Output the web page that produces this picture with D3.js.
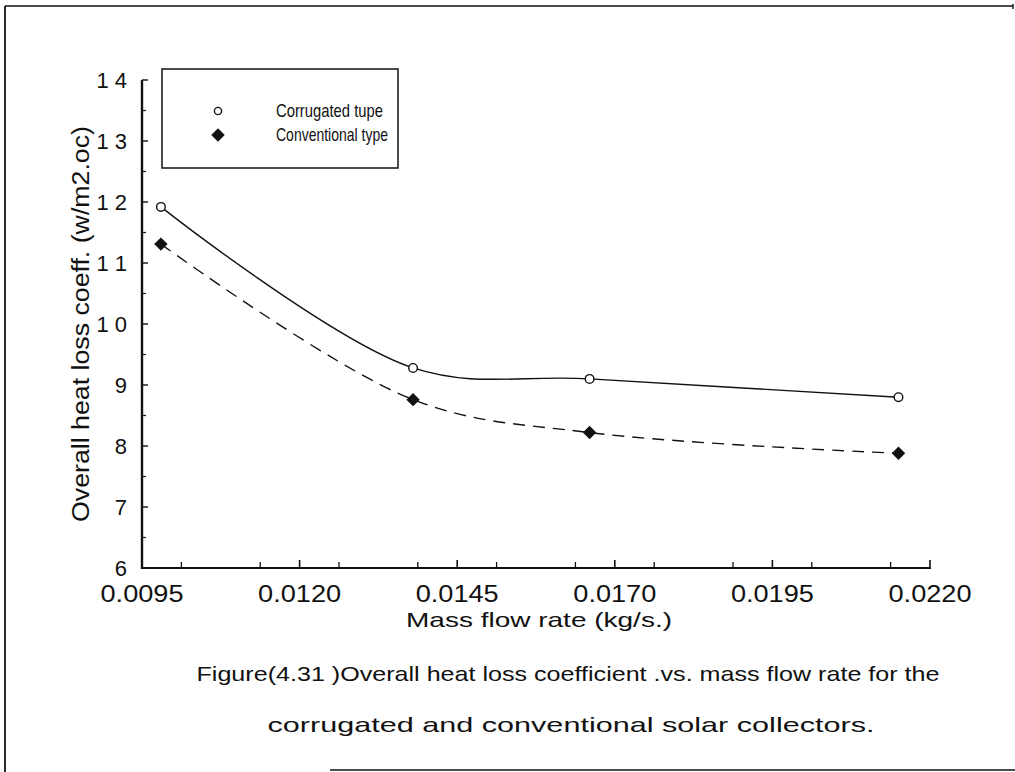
<!DOCTYPE html>
<html>
<head>
<meta charset="utf-8">
<script src="https://cdn.jsdelivr.net/npm/d3@7"></script>
<style>
  html, body { margin: 0; padding: 0; background: #fff; }
  svg { display: block; }
  text { font-family: "Liberation Sans", "DejaVu Sans", sans-serif; fill: #111; }
</style>
</head>
<body>
<svg id="chart" width="1015" height="772"></svg>
<script>
// Mass flow rate (kg/s) at which both collectors were tested
const flowRates = [0.0098, 0.0138, 0.0166, 0.0215];
// Overall heat loss coefficient (W/m2.°C)
const corrugated = [11.92, 9.28, 9.10, 8.80];
const conventional = [11.31, 8.76, 8.22, 7.88];

const xTicks = [0.0095, 0.0120, 0.0145, 0.0170, 0.0195, 0.0220];
const xTickLabels = ["0.0095", "0.0120", "0.0145", "0.0170", "0.0195", "0.0220"];
const yTicks = [6, 7, 8, 9, 10, 11, 12, 13, 14];
const yTickLabels = ["6", "7", "8", "9", "1 0", "1 1", "1 2", "1 3", "1 4"];

const seriesNames = ["Corrugated tupe", "Conventional type"];
const xTitle = "Mass flow rate (kg/s.)";
const yTitle = "Overall heat loss coeff. (w/m2.oc)";
const captionLines = [
  "Figure(4.31 )Overall heat loss coefficient .vs. mass flow rate for the",
  "corrugated and conventional solar collectors."
];

const svg = d3.select("#chart");
const ink = "#111";

// page frame
svg.append("line").attr("x1", 5).attr("y1", 6).attr("x2", 1013).attr("y2", 6)
  .attr("stroke", ink).attr("stroke-width", 1.6);
svg.append("line").attr("x1", 5).attr("y1", 6).attr("x2", 5).attr("y2", 772)
  .attr("stroke", ink).attr("stroke-width", 1.8);
svg.append("line").attr("x1", 1013).attr("y1", 4).attr("x2", 1013).attr("y2", 9)
  .attr("stroke", ink).attr("stroke-width", 1.4);
svg.append("line").attr("x1", 330).attr("y1", 770).attr("x2", 1015).attr("y2", 770)
  .attr("stroke", ink).attr("stroke-width", 1.6);

// plot area
const plotLeft = 142, plotRight = 930, plotTop = 80, plotBottom = 568;
const x = d3.scaleLinear().domain([0.0095, 0.0220]).range([plotLeft, plotRight]);
const y = d3.scaleLinear().domain([6, 14]).range([plotBottom, plotTop]);

// minor ticks every half interval
const xMinor = d3.range(0, 10).map(i => 0.0095 + i * 0.00125 + 0.000625).filter(v => v < 0.0220);
const yMinor = d3.range(6.5, 14, 1);

// x axis with inward ticks
const gx = svg.append("g");
gx.append("line").attr("x1", plotLeft - 1).attr("x2", plotRight + 1)
  .attr("y1", plotBottom).attr("y2", plotBottom)
  .attr("stroke", ink).attr("stroke-width", 2.2);
gx.selectAll(".xmaj").data(xTicks).join("line")
  .attr("x1", d => x(d)).attr("x2", d => x(d)).attr("y1", plotBottom).attr("y2", plotBottom - 8)
  .attr("stroke", ink).attr("stroke-width", 1.6);
gx.selectAll(".xmin").data(xMinor).join("line")
  .attr("x1", d => x(d)).attr("x2", d => x(d)).attr("y1", plotBottom).attr("y2", plotBottom - 6)
  .attr("stroke", ink).attr("stroke-width", 1.3);
gx.selectAll(".xlab").data(xTicks).join("text")
  .attr("x", d => x(d)).attr("y", 602)
  .attr("text-anchor", "middle").attr("font-size", 23)
  .attr("textLength", 83).attr("lengthAdjust", "spacingAndGlyphs")
  .text((d, i) => xTickLabels[i]);

// y axis with inward ticks
const gy = svg.append("g");
gy.append("line").attr("x1", plotLeft).attr("x2", plotLeft)
  .attr("y1", plotTop).attr("y2", plotBottom + 1)
  .attr("stroke", ink).attr("stroke-width", 2.4);
gy.selectAll(".ymaj").data(yTicks).join("line")
  .attr("x1", plotLeft).attr("x2", plotLeft + 6).attr("y1", d => y(d)).attr("y2", d => y(d))
  .attr("stroke", ink).attr("stroke-width", 1.4);
gy.selectAll(".ymin").data(yMinor).join("line")
  .attr("x1", plotLeft).attr("x2", plotLeft + 4).attr("y1", d => y(d)).attr("y2", d => y(d))
  .attr("stroke", ink).attr("stroke-width", 1.2);
gy.selectAll(".ylab").data(yTicks).join("text")
  .attr("x", 127).attr("y", d => y(d) + 8)
  .attr("text-anchor", "end").attr("font-size", 22)
  .text((d, i) => yTickLabels[i]);

// axis titles
svg.append("text").attr("x", 539).attr("y", 627)
  .attr("text-anchor", "middle").attr("font-size", 21)
  .attr("textLength", 266).attr("lengthAdjust", "spacingAndGlyphs")
  .text(xTitle);
svg.append("text")
  .attr("transform", `translate(89,${(plotTop + plotBottom) / 2}) rotate(-90)`)
  .attr("text-anchor", "middle").attr("font-size", 23)
  .attr("textLength", 396).attr("lengthAdjust", "spacingAndGlyphs")
  .text(yTitle);

// fitted curves
const line = d3.line().x(d => x(d[0])).y(d => y(d[1])).curve(d3.curveCatmullRom.alpha(0.5));
const corrPts = flowRates.map((f, i) => [f, corrugated[i]]);
const convPts = flowRates.map((f, i) => [f, conventional[i]]);

svg.append("path").attr("d", line(corrPts))
  .attr("fill", "none").attr("stroke", ink).attr("stroke-width", 1.4);
svg.append("path").attr("d", line(convPts))
  .attr("fill", "none").attr("stroke", ink).attr("stroke-width", 1.4)
  .attr("stroke-dasharray", "12,8");

// markers
const diamond = d3.symbol().type(d3.symbolSquare).size(90);
svg.selectAll(".corr").data(corrPts).join("circle")
  .attr("cx", d => x(d[0])).attr("cy", d => y(d[1])).attr("r", 4.3)
  .attr("fill", "#fff").attr("stroke", ink).attr("stroke-width", 1.4);
svg.selectAll(".conv").data(convPts).join("path")
  .attr("d", diamond)
  .attr("transform", d => `translate(${x(d[0])},${y(d[1])}) rotate(45)`)
  .attr("fill", ink);

// legend
const lg = svg.append("g");
lg.append("rect").attr("x", 162).attr("y", 69).attr("width", 236).attr("height", 99)
  .attr("fill", "#fff").attr("stroke", ink).attr("stroke-width", 1.5);
lg.append("circle").attr("cx", 218).attr("cy", 111).attr("r", 3.6)
  .attr("fill", "#fff").attr("stroke", ink).attr("stroke-width", 1.4);
lg.append("path").attr("d", diamond).attr("transform", "translate(218,135) rotate(45)").attr("fill", ink);
lg.append("text").attr("x", 276).attr("y", 117).attr("font-size", 19)
  .attr("textLength", 107).attr("lengthAdjust", "spacingAndGlyphs").text(seriesNames[0]);
lg.append("text").attr("x", 276).attr("y", 141).attr("font-size", 19)
  .attr("textLength", 112).attr("lengthAdjust", "spacingAndGlyphs").text(seriesNames[1]);

// caption
svg.append("text").attr("x", 568).attr("y", 681)
  .attr("text-anchor", "middle").attr("font-size", 21)
  .attr("textLength", 743).attr("lengthAdjust", "spacingAndGlyphs")
  .text(captionLines[0]);
svg.append("text").attr("x", 571).attr("y", 732)
  .attr("text-anchor", "middle").attr("font-size", 21)
  .attr("textLength", 607).attr("lengthAdjust", "spacingAndGlyphs")
  .text(captionLines[1]);
</script>
</body>
</html>
